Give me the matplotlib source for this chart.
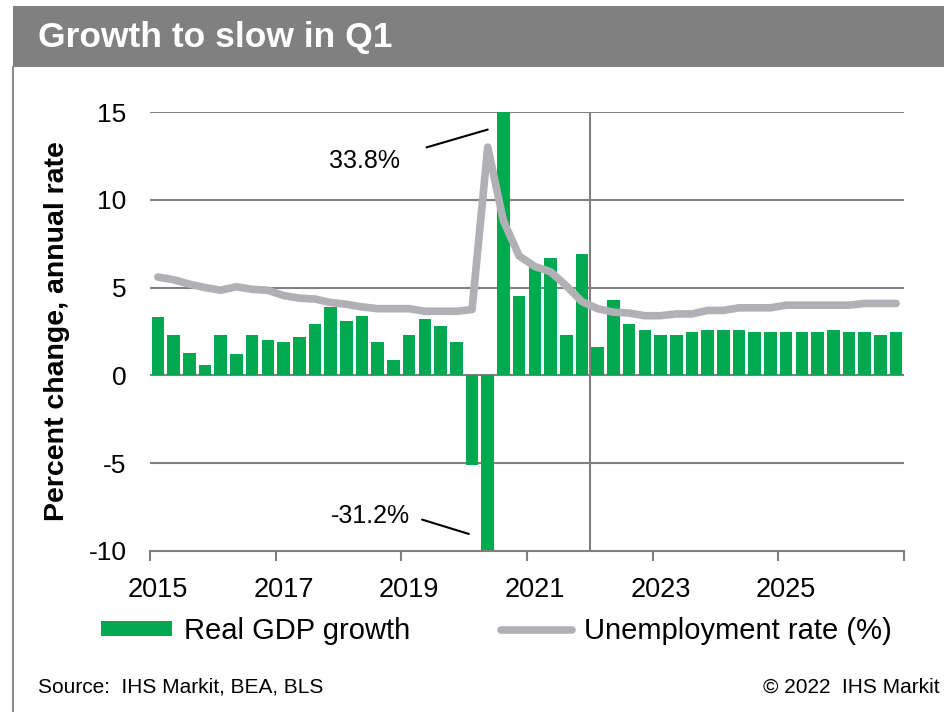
import matplotlib
matplotlib.use("Agg")
import matplotlib.pyplot as plt
from matplotlib.patches import Rectangle
from matplotlib.lines import Line2D
import numpy as np

plt.rcParams['font.family'] = ['Liberation Sans', 'DejaVu Sans']

W, H = 945, 712

# quarterly series, 2015Q1 .. 2026Q4
quarters = [f"{y}Q{q}" for y in range(2015, 2027) for q in range(1, 5)]
gdp_growth = [3.3, 2.3, 1.3, 0.6, 2.3, 1.2, 2.3, 2.0,
              1.9, 2.2, 2.9, 3.9, 3.1, 3.4, 1.9, 0.9,
              2.3, 3.2, 2.8, 1.9, -5.1, -31.2, 33.8, 4.5,
              6.3, 6.7, 2.3, 6.9, 1.6, 4.3, 2.9, 2.6,
              2.3, 2.3, 2.5, 2.6, 2.6, 2.6, 2.5, 2.5,
              2.5, 2.5, 2.5, 2.6, 2.5, 2.5, 2.3, 2.5]
unemployment = [5.6, 5.45, 5.2, 5.0, 4.85, 5.05, 4.9, 4.85,
                4.55, 4.4, 4.35, 4.15, 4.05, 3.9, 3.8, 3.8,
                3.8, 3.65, 3.65, 3.65, 3.75, 13.0, 8.8, 6.8,
                6.2, 5.9, 5.1, 4.2, 3.8, 3.6, 3.55, 3.4,
                3.4, 3.5, 3.5, 3.7, 3.7, 3.85, 3.85, 3.85,
                4.0, 4.0, 4.0, 4.0, 4.0, 4.1, 4.1, 4.1]
year_labels = ["2015", "2017", "2019", "2021", "2023", "2025"]
y_ticks = [-10, -5, 0, 5, 10, 15]
forecast_start = "2022Q1"

GREEN = '#00A84F'
LINE_GREY = '#B1B1B5'
GRID = '#7F7F7F'
BAND = '#7F807F'

fig = plt.figure(figsize=(W / 100, H / 100), dpi=100)
fig.patch.set_facecolor('white')

# header band + left frame line
fig.patches.append(Rectangle((13 / W, 1 - 67 / H), 1 - 13 / W, 61 / H,
                             transform=fig.transFigure, facecolor=BAND,
                             edgecolor='none'))
fig.add_artist(Line2D([13.5 / W, 13.5 / W], [0, 1 - 67 / H],
                      transform=fig.transFigure, color='#8C8C8C', lw=1.5))
fig.text(38 / W, 1 - 38 / H, "Growth to slow in Q1", color='white',
         fontsize=25.5, fontweight='bold', ha='left', va='center')

ax = fig.add_axes([150 / W, 161 / H, 754 / W, 439 / H])
x = np.arange(len(quarters))

bars = ax.bar(x, gdp_growth, width=0.8, color=GREEN, zorder=2,
              label="Real GDP growth")
line, = ax.plot(x, unemployment, color=LINE_GREY, lw=5.5, zorder=3,
                solid_capstyle='round', solid_joinstyle='round',
                label="Unemployment rate (%)")

ax.set_xlim(-0.5, len(quarters) - 0.5)
ax.set_ylim(-10, 15)

# horizontal grid and forecast divider
for yv in y_ticks[1:]:
    ax.axhline(yv, color=GRID, lw=1.5, zorder=1)
ax.axvline(quarters.index(forecast_start) - 0.5, color=GRID, lw=1.5, zorder=1)

for s in ['top', 'right', 'left']:
    ax.spines[s].set_visible(False)
ax.spines['bottom'].set_color(GRID)
ax.spines['bottom'].set_linewidth(1.5)

ax.set_yticks(y_ticks)
ax.set_yticklabels([str(v) for v in y_ticks])
ax.tick_params(axis='y', length=0, pad=17, labelsize=19)

# ticks at year boundaries, labels under each Q1 bar
label_pos = [quarters.index(f"{y}Q1") for y in year_labels]
ax.set_xticks(np.arange(-0.5, len(quarters), 8))
ax.set_xticklabels([])
ax.set_xticks(label_pos, minor=True)
ax.set_xticklabels(year_labels, minor=True)
ax.tick_params(axis='x', which='major', length=7, width=1.5, color=GRID,
               direction='out')
ax.tick_params(axis='x', which='minor', length=0, pad=19, labelsize=19.5)

ax.set_ylabel("Percent change, annual rate", fontsize=20.5, fontweight='bold',
              va='center')
ax.yaxis.set_label_coords(-0.124, 0.5)

# value call-outs for the bars that run off the scale
i_dn = quarters.index("2020Q2")
i_up = quarters.index("2020Q3")
ax.annotate(f"{gdp_growth[i_up]}%", xy=(i_dn, 14.0), xytext=(15.4, 12.2),
            ha='right', va='center', fontsize=18,
            arrowprops=dict(arrowstyle='-', color='black', lw=1.5,
                            relpos=(1.0, 0.75), shrinkA=18, shrinkB=0))
ax.annotate(f"{gdp_growth[i_dn]}%", xy=(i_dn - 1.2, -9.03),
            xytext=(16.05, -8.0), ha='right', va='center', fontsize=18,
            arrowprops=dict(arrowstyle='-', color='black', lw=1.5,
                            relpos=(1.0, 0.5), shrinkA=7, shrinkB=0))

fig.legend(handles=[bars, line], loc='center left',
           bbox_to_anchor=(101 / W, 1 - 631 / H), ncol=2, frameon=False,
           fontsize=21, handlelength=2.45, handleheight=0.45,
           handletextpad=0.4, columnspacing=3.1, borderpad=0,
           borderaxespad=0)

fig.text(38 / W, 1 - 687 / H, "Source:  IHS Markit, BEA, BLS", fontsize=15,
         ha='left', va='center')
fig.text(940 / W, 1 - 687 / H, "\u00a9 2022  IHS Markit", fontsize=15,
         ha='right', va='center')

fig.savefig("out.png", dpi=100)
